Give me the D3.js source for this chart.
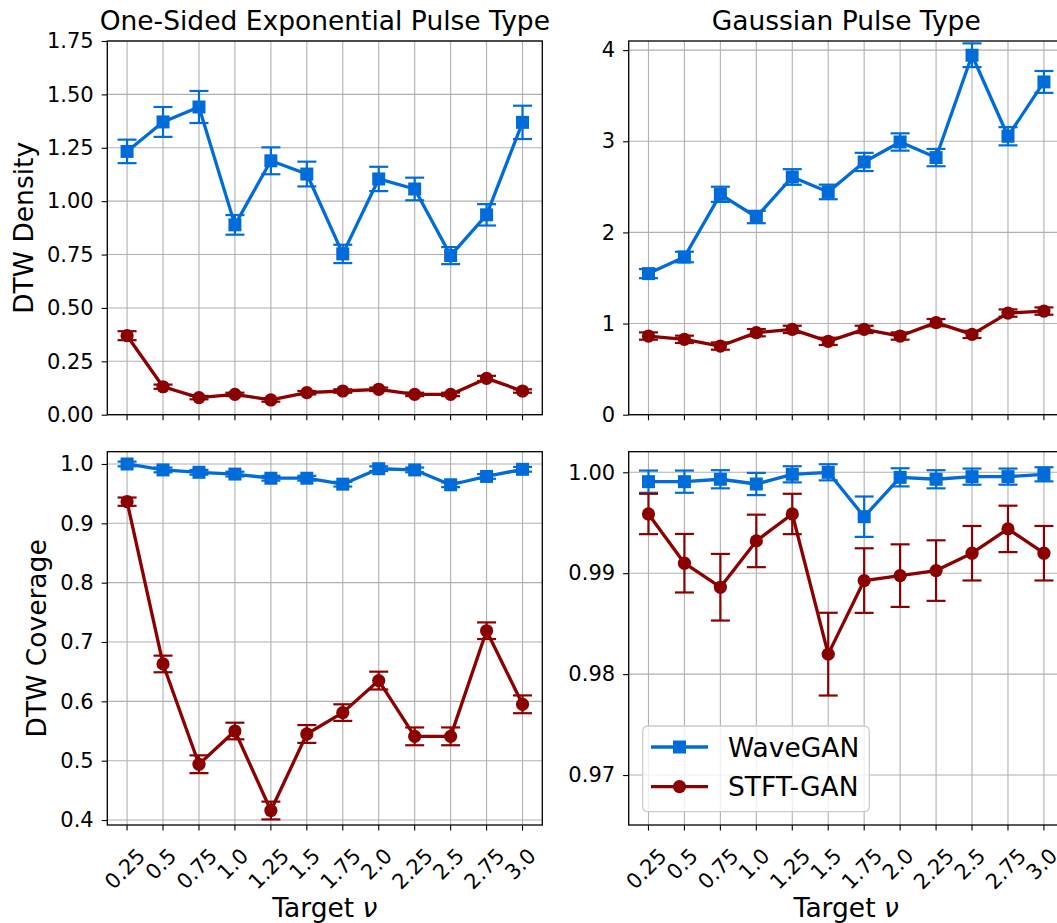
<!DOCTYPE html>
<html>
<head>
<meta charset="utf-8">
<script src="https://cdn.jsdelivr.net/npm/d3@7"></script>
<style>
  body { margin: 0; background: #fff; }
  svg { display: block; font-family: "DejaVu Sans", sans-serif; }
  text { font-family: "DejaVu Sans", sans-serif; }
</style>
</head>
<body>
<svg id="chart" width="1057" height="923"></svg>
<script>
// --- Data ---
const nu = [0.25, 0.5, 0.75, 1.0, 1.25, 1.5, 1.75, 2.0, 2.25, 2.5, 2.75, 3.0];
const nuLabels = ["0.25", "0.5", "0.75", "1.0", "1.25", "1.5", "1.75", "2.0", "2.25", "2.5", "2.75", "3.0"];

const expDensityWave = [1.233, 1.371, 1.441, 0.889, 1.189, 1.127, 0.753, 1.104, 1.057, 0.745, 0.936, 1.369];
const expDensityWaveErr = [0.055, 0.07, 0.075, 0.046, 0.063, 0.058, 0.043, 0.057, 0.053, 0.04, 0.05, 0.078];
const expDensitySTFT = [0.370, 0.131, 0.080, 0.095, 0.069, 0.103, 0.111, 0.119, 0.095, 0.095, 0.170, 0.111];
const expDensitySTFTErr = [0.021, 0.01, 0.008, 0.008, 0.008, 0.008, 0.008, 0.008, 0.008, 0.008, 0.012, 0.008];

const gaussDensityWave = [1.548, 1.730, 2.418, 2.169, 2.608, 2.444, 2.773, 2.992, 2.821, 3.944, 3.055, 3.651];
const gaussDensityWaveErr = [0.05, 0.058, 0.083, 0.068, 0.086, 0.08, 0.1, 0.095, 0.095, 0.13, 0.1, 0.12];
const gaussDensitySTFT = [0.863, 0.827, 0.753, 0.900, 0.936, 0.805, 0.936, 0.863, 1.010, 0.881, 1.115, 1.137];
const gaussDensitySTFTErr = [0.04, 0.04, 0.04, 0.04, 0.04, 0.04, 0.04, 0.04, 0.04, 0.04, 0.04, 0.04];

const expCovWave = [1.000, 0.990, 0.986, 0.983, 0.976, 0.976, 0.966, 0.992, 0.990, 0.965, 0.979, 0.991];
const expCovWaveErr = [0.004, 0.004, 0.004, 0.004, 0.004, 0.004, 0.004, 0.004, 0.004, 0.004, 0.004, 0.004];
const expCovSTFT = [0.9365, 0.663, 0.494, 0.550, 0.416, 0.545, 0.581, 0.635, 0.541, 0.541, 0.719, 0.595];
const expCovSTFTErr = [0.007, 0.014, 0.015, 0.014, 0.015, 0.015, 0.014, 0.015, 0.015, 0.015, 0.014, 0.015];

const gaussCovWave = [0.99907, 0.99907, 0.99931, 0.99884, 0.9998, 1.0, 0.9956, 0.9995, 0.99931, 0.99957, 0.99957, 0.9998];
const gaussCovWaveErr = [0.0011, 0.0011, 0.0009, 0.0011, 0.0008, 0.0008, 0.002, 0.0009, 0.0009, 0.0008, 0.0008, 0.0007];
const gaussCovSTFT = [0.99587, 0.99099, 0.98861, 0.9932, 0.99587, 0.98198, 0.98927, 0.98976, 0.99026, 0.99198, 0.99439, 0.99198];
const gaussCovSTFTErr = [0.002, 0.0029, 0.0033, 0.0026, 0.002, 0.0041, 0.0032, 0.0031, 0.003, 0.0027, 0.0023, 0.0027];

const seriesNames = ["WaveGAN", "STFT-GAN"];
const colors = { WaveGAN: "#006cd9", "STFT-GAN": "#8b0000" };

const svg = d3.select("#chart");

// --- Layout ---
const colX = [[107.3, 542.3], [628.7, 1063.7]];
const rowY = [[41, 414.7], [451.7, 825]];
const tickFont = 21, labelFont = 26.5;

const panels = [
  { col: 0, row: 0, title: "One-Sided Exponential Pulse Type", ylabel: "DTW Density",
    domain: [0, 1.75], ticks: [0, 0.25, 0.5, 0.75, 1.0, 1.25, 1.5, 1.75], fmt: d3.format(".2f"),
    wave: expDensityWave, waveErr: expDensityWaveErr, stft: expDensitySTFT, stftErr: expDensitySTFTErr },
  { col: 1, row: 0, title: "Gaussian Pulse Type",
    domain: [0, 4.1], ticks: [0, 1, 2, 3, 4], fmt: d3.format("d"),
    wave: gaussDensityWave, waveErr: gaussDensityWaveErr, stft: gaussDensitySTFT, stftErr: gaussDensitySTFTErr },
  { col: 0, row: 1, ylabel: "DTW Coverage", xlabel: true,
    domain: [0.3916, 1.0207], ticks: [0.4, 0.5, 0.6, 0.7, 0.8, 0.9, 1.0], fmt: d3.format(".1f"),
    wave: expCovWave, waveErr: expCovWaveErr, stft: expCovSTFT, stftErr: expCovSTFTErr },
  { col: 1, row: 1, xlabel: true, legend: true,
    domain: [0.96505, 1.00204], ticks: [0.97, 0.98, 0.99, 1.0], fmt: d3.format(".2f"),
    wave: gaussCovWave, waveErr: gaussCovWaveErr, stft: gaussCovSTFT, stftErr: gaussCovSTFTErr }
];

function drawMarker(g, name, x, y) {
  if (name === "WaveGAN") {
    g.append("rect").attr("x", x - 6.5).attr("y", y - 6.5).attr("width", 13).attr("height", 13)
      .attr("fill", colors[name]);
  } else {
    g.append("circle").attr("cx", x).attr("cy", y).attr("r", 6.6).attr("fill", colors[name]);
  }
}

panels.forEach(p => {
  const [x0, x1] = colX[p.col];
  const [y0, y1] = rowY[p.row];
  const x = d3.scaleLinear().domain([0.25 - 0.1375, 3 + 0.1375]).range([x0, x1]);
  const y = d3.scaleLinear().domain(p.domain).range([y1, y0]);
  const g = svg.append("g");

  // grid
  g.append("g").selectAll("line").data(nu).join("line")
    .attr("x1", d => x(d)).attr("x2", d => x(d)).attr("y1", y0).attr("y2", y1)
    .attr("stroke", "#b0b0b0").attr("stroke-width", 1.1);
  g.append("g").selectAll("line").data(p.ticks).join("line")
    .attr("x1", x0).attr("x2", x1).attr("y1", d => y(d)).attr("y2", d => y(d))
    .attr("stroke", "#b0b0b0").attr("stroke-width", 1.1);

  // y axis
  const yAxis = g.append("g").attr("transform", `translate(${x0},0)`)
    .call(d3.axisLeft(y).tickValues(p.ticks).tickFormat(p.fmt).tickSize(5.6).tickPadding(8));
  yAxis.attr("font-family", null).attr("font-size", null);
  yAxis.select(".domain").remove();
  yAxis.selectAll("line").attr("stroke", "#000").attr("stroke-width", 1.1);
  yAxis.selectAll("text").attr("font-size", tickFont).attr("fill", "#000");

  // x ticks
  g.append("g").selectAll("line").data(nu).join("line")
    .attr("x1", d => x(d)).attr("x2", d => x(d)).attr("y1", y1).attr("y2", y1 + 5.6)
    .attr("stroke", "#000").attr("stroke-width", 1.1);

  if (p.xlabel) {
    const lab = g.append("g").selectAll("text").data(nu).join("text")
      .attr("font-size", tickFont).attr("text-anchor", "middle").attr("dominant-baseline", "central")
      .text((d, i) => nuLabels[i]);
    lab.each(function(d) {
      const w = this.getComputedTextLength();
      const h = (w + tickFont * 0.73) * Math.SQRT1_2;
      const cx = x(d) - 2, cy = y1 + 22 + h / 2;
      d3.select(this).attr("x", cx).attr("y", cy).attr("transform", `rotate(-45,${cx},${cy})`);
    });
    const xl = g.append("text").attr("x", (x0 + x1) / 2).attr("y", 916.5)
      .attr("text-anchor", "middle").attr("font-size", labelFont);
    xl.append("tspan").text("Target ");
    xl.append("tspan").attr("font-style", "italic").text("ν");
  }

  // series
  const series = [
    { name: "WaveGAN", vals: p.wave, err: p.waveErr },
    { name: "STFT-GAN", vals: p.stft, err: p.stftErr }
  ];
  series.forEach(s => {
    const c = colors[s.name];
    const sg = g.append("g");
    const line = d3.line().x((d, i) => x(nu[i])).y(d => y(d));
    sg.append("path").datum(s.vals).attr("d", line)
      .attr("fill", "none").attr("stroke", c).attr("stroke-width", 3.3).attr("stroke-linejoin", "round");
    s.vals.forEach((v, i) => {
      const cx = x(nu[i]);
      const top = y(v + s.err[i]), bot = y(v - s.err[i]);
      sg.append("line").attr("x1", cx).attr("x2", cx).attr("y1", top).attr("y2", bot)
        .attr("stroke", c).attr("stroke-width", 2.2);
      [top, bot].forEach(yy => sg.append("line").attr("x1", cx - 9.5).attr("x2", cx + 9.5)
        .attr("y1", yy).attr("y2", yy).attr("stroke", c).attr("stroke-width", 2.2));
      drawMarker(sg, s.name, cx, y(v));
    });
  });

  // frame
  g.append("rect").attr("x", x0).attr("y", y0).attr("width", x1 - x0).attr("height", y1 - y0)
    .attr("fill", "none").attr("stroke", "#000").attr("stroke-width", 1.3);

  if (p.title) {
    svg.append("text").attr("x", (x0 + x1) / 2).attr("y", 30).attr("text-anchor", "middle")
      .attr("font-size", labelFont).text(p.title);
  }
  if (p.ylabel) {
    let minLeft = Infinity;
    yAxis.selectAll("text").each(function() { minLeft = Math.min(minLeft, this.getBBox().x + x0); });
    const lx = minLeft - 14;
    svg.append("text").attr("transform", `translate(${lx},${(y0 + y1) / 2}) rotate(-90)`)
      .attr("text-anchor", "middle").attr("font-size", labelFont).text(p.ylabel);
  }

  if (p.legend) {
    const lg = svg.append("g");
    lg.append("rect").attr("x", 642.7).attr("y", 726).attr("width", 226.6).attr("height", 85.7)
      .attr("rx", 5).attr("fill", "#fff").attr("fill-opacity", 0.8)
      .attr("stroke", "#cccccc").attr("stroke-width", 1.3);
    seriesNames.forEach((name, i) => {
      const ly = 747 + i * 39.7;
      lg.append("line").attr("x1", 651).attr("x2", 708).attr("y1", ly).attr("y2", ly)
        .attr("stroke", colors[name]).attr("stroke-width", 3.3);
      drawMarker(lg, name, 679.5, ly);
      lg.append("text").attr("x", 728).attr("y", ly + 9.5).attr("font-size", labelFont).text(name);
    });
  }
});
</script>
</body>
</html>
